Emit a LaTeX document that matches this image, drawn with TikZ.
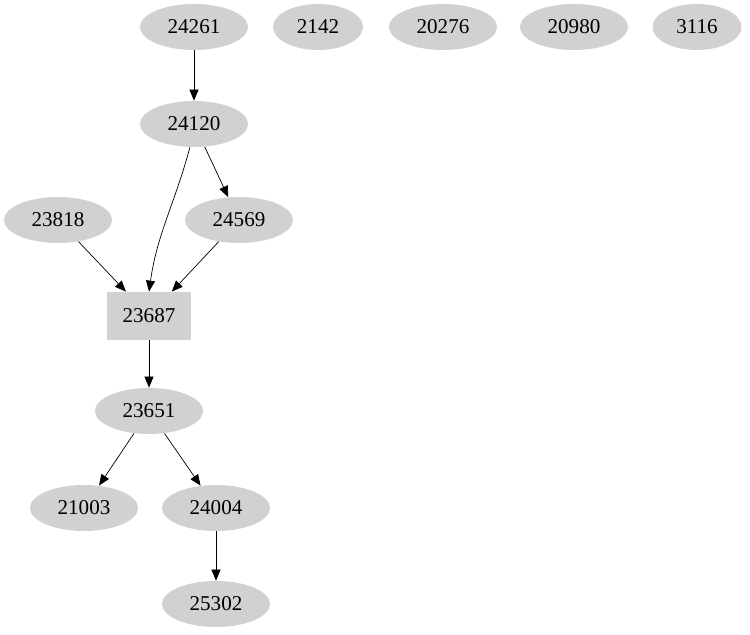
\documentclass[tikz,border=0pt]{standalone}
\usepackage{fontspec}
\setmainfont{Liberation Serif}
\usetikzlibrary{positioning,shapes,arrows.meta}
\tikzstyle{vertex}=[ellipse, fill=black!18, minimum width=2.16cm, minimum height=0.92cm,
        inner sep=0pt, font=\fontsize{12}{14}\selectfont]
\tikzstyle{boxed}=[rectangle, fill=black!18, minimum width=1.68cm, minimum height=0.96cm,
        inner sep=0pt, font=\fontsize{12}{14}\selectfont]
\tikzstyle{edge}=[draw=black, -{Triangle[length=0.22cm,width=0.18cm]}]

\begin{document}
\begin{tikzpicture}
        \useasboundingbox (0,0) rectangle (15,12.7);
        \node (n24261) [vertex] at (3.88,12.16) {24261};
        \node (n2142) [vertex, minimum width=1.8cm] at (6.36,12.16) {2142};
        \node (n20276) [vertex] at (8.86,12.16) {20276};
        \node (n20980) [vertex] at (11.48,12.16) {20980};
        \node (n3116) [vertex, minimum width=1.78cm] at (13.94,12.16) {3116};
        \node (n24120) [vertex] at (3.88,10.22) {24120};
        \node (n23818) [vertex] at (1.16,8.30) {23818};
        \node (n24569) [vertex] at (4.78,8.30) {24569};
        \node (n23687) [boxed] at (2.98,6.38) {23687};
        \node (n23651) [vertex] at (2.98,4.48) {23651};
        \node (n21003) [vertex] at (1.68,2.54) {21003};
        \node (n24004) [vertex] at (4.32,2.54) {24004};
        \node (n25302) [vertex] at (4.32,0.62) {25302};

        \draw [edge] (n24261) -- (n24120);
        \draw [edge] (n24120) -- (n24569);
        \draw [edge] (n24120.-100) to[out=-105, in=82] (n23687.north);
        \draw [edge] (n23818) -- (n23687);
        \draw [edge] (n24569) -- (n23687);
        \draw [edge] (n23687) -- (n23651);
        \draw [edge] (n23651) -- (n21003);
        \draw [edge] (n23651) -- (n24004);
        \draw [edge] (n24004) -- (n25302);
\end{tikzpicture}
\end{document}
